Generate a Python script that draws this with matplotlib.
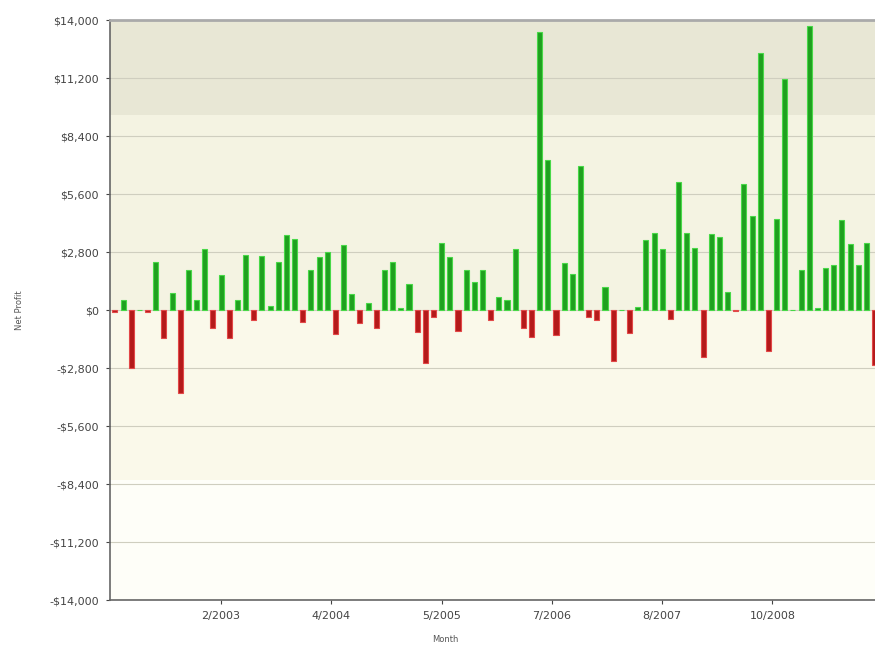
import numpy as np
import matplotlib.pyplot as plt
from matplotlib.ticker import FuncFormatter

# monthly net profit, first bar = 1/2002
start_year, start_month = 2002, 1
profit = [
    -100, 480, -2800, 0, -100, 2330, -1370, 800, -4000, 1930,
    480, 2950, -850, 1680, -1330, 460, 2650, -500, 2600, 200,
    2330, 3600, 3450, -580, 1920, 2560, 2820, -1140, 3140, 780,
    -640, 330, -890, 1910, 2330, 120, 1270, -1050, -2540, -350,
    3220, 2560, -1000, 1940, 1370, 1920, -480, 640, 480, 2930,
    -890, -1290, 13400, 7250, -1210, 2290, 1740, 6970, -320, -480,
    1130, -2450, 0, -1090, 130, 3380, 3700, 2930, -430, 6170,
    3700, 2980, -2290, 3670, 3510, 890, -50, 6090, 4540, 12400,
    -1960, 4380, 11140, 0, 1930, 13690, 110, 2040, 2170, 4350,
    3190, 2170, 3220, -2660,
]
# date axis labels, one every 13.5 months starting at 2/2003
tick_labels = ["2/2003", "4/2004", "5/2005", "7/2006", "8/2007", "10/2008"]
tick_step = 13.5
y_ticks = [-14000, -11200, -8400, -5600, -2800, 0, 2800, 5600, 8400, 11200, 14000]

profit = np.array(profit)
x = np.arange(len(profit))
m0, y0 = tick_labels[0].split("/")
first_tick = (int(y0) - start_year) * 12 + int(m0) - start_month
tick_pos = first_tick + tick_step * np.arange(len(tick_labels))

W, H = 875, 646
fig = plt.figure(figsize=(W / 100, H / 100), dpi=100)
ax = fig.add_axes([110 / W, 1 - 600 / H, 1 - 110 / W, (600 - 20) / H])

# background bands
ax.axhspan(9400, 14000, color="#E8E7D5", zorder=0, lw=0)
ax.axhspan(0, 9400, color="#F4F3E2", zorder=0, lw=0)
ax.axhspan(-8200, 0, color="#FAF9EA", zorder=0, lw=0)
ax.axhspan(-14000, -8200, color="#FEFEF8", zorder=0, lw=0)

for yt in y_ticks:
    ax.axhline(yt, color="#CFCEBF", lw=0.8, zorder=1)

pos = profit >= 0
ax.bar(x[pos], profit[pos], width=0.62, color="#1FA01F", edgecolor="#48D848",
       linewidth=0.8, zorder=3)
ax.bar(x[~pos], profit[~pos], width=0.62, color="#B41A1A", edgecolor="#E24848",
       linewidth=0.8, zorder=3)

ax.set_xlim(-0.6, 93.05)
ax.set_ylim(-14000, 14000)
ax.set_yticks(y_ticks)


def money(v, _):
    s = "${:,.0f}".format(abs(v))
    return ("-" + s if v < 0 else s).replace("$", r"\$")


ax.yaxis.set_major_formatter(FuncFormatter(money))
ax.set_xticks(tick_pos)
ax.set_xticklabels(tick_labels)
ax.tick_params(axis="both", labelsize=8, colors="#444444", length=3, width=0.8)
ax.tick_params(axis="y", pad=5)
ax.tick_params(axis="x", pad=5)

for side in ["left", "bottom"]:
    ax.spines[side].set_color("#666666")
    ax.spines[side].set_linewidth(1.2)
ax.spines["top"].set_color("#AAAAAA")
ax.spines["top"].set_linewidth(2)
ax.spines["right"].set_visible(False)

fig.text(20 / W, 1 - 310 / H, "Net Profit", rotation=90, fontsize=6,
         color="#555555", ha="center", va="center")
fig.text(445 / W, 1 - 640 / H, "Month", fontsize=6, color="#555555",
         ha="center", va="center")

fig.savefig("out.png", dpi=100)
